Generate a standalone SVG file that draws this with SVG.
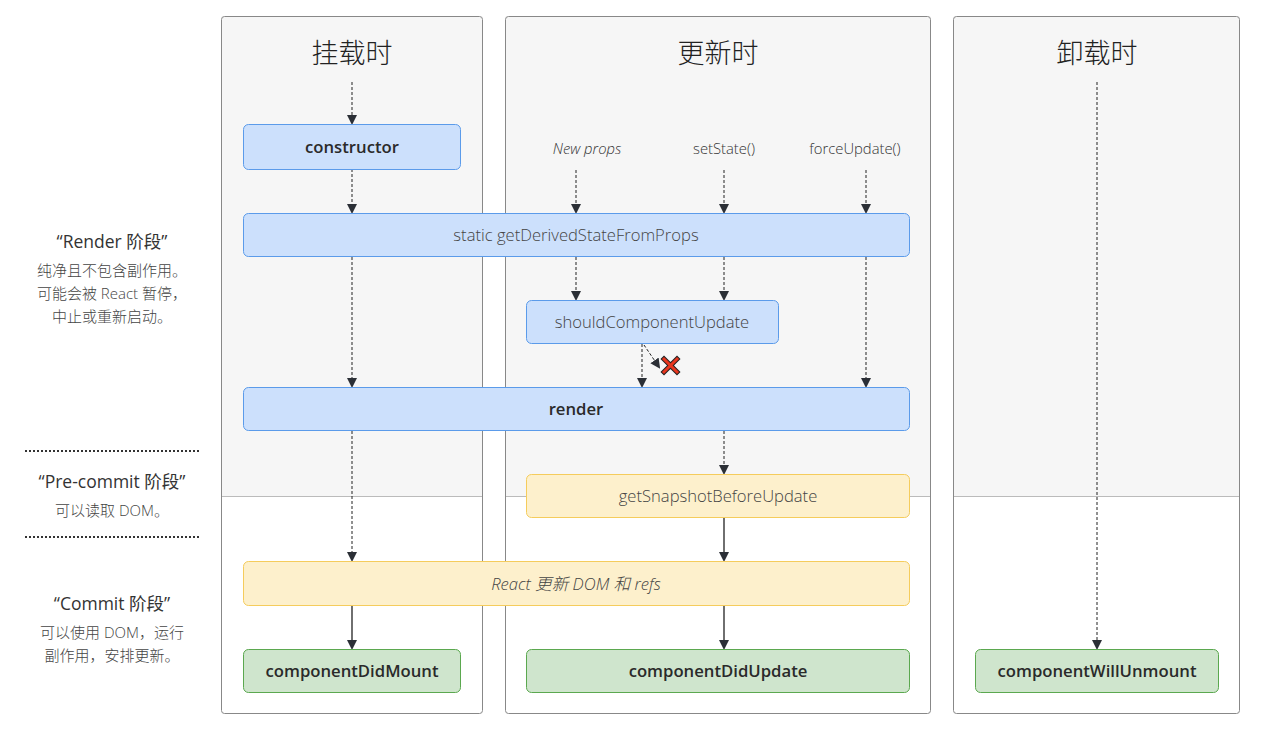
<svg xmlns="http://www.w3.org/2000/svg" width="1274" height="734" viewBox="0 0 1274 734">
<style>
.panel-bg{fill:#f6f6f6}
.panel{fill:none;stroke:#888;stroke-width:1}
.sep{stroke:#bbb;stroke-width:1}
.title{font-family:"Open Sans","Noto Sans CJK SC",sans-serif;font-size:27px;font-weight:300;fill:#222;text-anchor:middle}
.blue{fill:#cce0fc;stroke:#5b9bea;stroke-width:1}
.yellow{fill:#fdf0cc;stroke:#f5cc5c;stroke-width:1}
.green{fill:#cfe5cd;stroke:#5ba84f;stroke-width:1}
.nb{font-family:"Open Sans","Noto Sans CJK SC",sans-serif;font-size:16.7px;font-weight:600;fill:#2a2a2a;text-anchor:middle}
.nl{font-family:"Open Sans","Noto Sans CJK SC",sans-serif;font-size:16.6px;font-weight:300;fill:#444;text-anchor:middle}
.lab{font-family:"Open Sans","Noto Sans CJK SC",sans-serif;font-size:14.8px;font-weight:300;fill:#333;text-anchor:middle}
.ph{font-family:"Open Sans","Noto Sans CJK SC",sans-serif;font-size:17.5px;fill:#333;text-anchor:middle}
.pd{font-family:"Open Sans","Noto Sans CJK SC",sans-serif;font-size:15px;font-weight:300;fill:#444;text-anchor:middle}
.dash{stroke:#222;stroke-width:1;stroke-dasharray:3,2;fill:none}
.solid{stroke:#222;stroke-width:1.3;fill:none}
.dots{stroke:#333;stroke-width:2;stroke-dasharray:2,2}
</style>
<defs>
<marker id="ah" markerWidth="10" markerHeight="12" refX="8" refY="5" orient="auto" markerUnits="userSpaceOnUse">
<path d="M0,0 L10,5 L0,10 z" fill="#2b2f36"/>
</marker>
</defs>
<rect width="1274" height="734" fill="#fff"/>

<g id="panel-mount">
<rect class="panel-bg" x="221.5" y="16.5" width="261" height="480"/>
<line class="sep" x1="221.5" y1="496.5" x2="482.5" y2="496.5"/>
<rect class="panel" x="221.5" y="16.5" width="261" height="697" rx="3"/>
<text class="title" x="352" y="63">挂载时</text>
</g>
<g id="panel-update">
<rect class="panel-bg" x="505.5" y="16.5" width="425" height="480"/>
<line class="sep" x1="505.5" y1="496.5" x2="930.5" y2="496.5"/>
<rect class="panel" x="505.5" y="16.5" width="425" height="697" rx="3"/>
<text class="title" x="718" y="63">更新时</text>
</g>
<g id="panel-unmount">
<rect class="panel-bg" x="953.5" y="16.5" width="286" height="480"/>
<line class="sep" x1="953.5" y1="496.5" x2="1239.5" y2="496.5"/>
<rect class="panel" x="953.5" y="16.5" width="286" height="697" rx="3"/>
<text class="title" x="1097" y="63">卸载时</text>
</g>

<g id="phases">
<text class="ph" x="112" y="248">“Render 阶段”</text>
<text class="pd" x="112" y="276">纯净且不包含副作用。</text>
<text class="pd" x="112" y="299">可能会被 React 暂停，</text>
<text class="pd" x="112" y="322">中止或重新启动。</text>
<line class="dots" x1="25" y1="451" x2="199" y2="451"/>
<text class="ph" x="112" y="488">“Pre-commit 阶段”</text>
<text class="pd" x="112" y="516">可以读取 DOM。</text>
<line class="dots" x1="25" y1="537" x2="199" y2="537"/>
<text class="ph" x="112" y="610">“Commit 阶段”</text>
<text class="pd" x="112" y="638">可以使用 DOM，运行</text>
<text class="pd" x="112" y="661">副作用，安排更新。</text>
</g>

<g id="triggers">
<text class="lab" x="587" y="154" font-style="italic">New props</text>
<text class="lab" x="724" y="154">setState()</text>
<text class="lab" x="855" y="154">forceUpdate()</text>
</g>

<g id="connectors">
<line class="dash" x1="352" y1="82" x2="352" y2="123" marker-end="url(#ah)"/>
<line class="dash" x1="352" y1="169" x2="352" y2="212" marker-end="url(#ah)"/>
<line class="dash" x1="352" y1="257" x2="352" y2="386" marker-end="url(#ah)"/>
<line class="dash" x1="352" y1="431" x2="352" y2="560" marker-end="url(#ah)"/>
<line class="solid" x1="352" y1="605" x2="352" y2="648" marker-end="url(#ah)"/>
<line class="dash" x1="576" y1="170" x2="576" y2="212" marker-end="url(#ah)"/>
<line class="dash" x1="724" y1="170" x2="724" y2="212" marker-end="url(#ah)"/>
<line class="dash" x1="866" y1="170" x2="866" y2="212" marker-end="url(#ah)"/>
<line class="dash" x1="576" y1="257" x2="576" y2="299" marker-end="url(#ah)"/>
<line class="dash" x1="724" y1="257" x2="724" y2="299" marker-end="url(#ah)"/>
<line class="dash" x1="866" y1="257" x2="866" y2="386" marker-end="url(#ah)"/>
<line class="dash" x1="642" y1="344" x2="642" y2="386" marker-end="url(#ah)"/>
<line class="dash" x1="644" y1="345" x2="659" y2="367" marker-end="url(#ah)"/>
<line class="dash" x1="724" y1="431" x2="724" y2="473" marker-end="url(#ah)"/>
<line class="solid" x1="724" y1="518" x2="724" y2="560" marker-end="url(#ah)"/>
<line class="solid" x1="724" y1="606" x2="724" y2="648" marker-end="url(#ah)"/>
<line class="dash" x1="1097" y1="82" x2="1097" y2="648" marker-end="url(#ah)"/>
</g>

<g id="cancel">
<path d="M664,359 L677,372 M677,359 L664,372" stroke="#222" stroke-width="5" stroke-linecap="square"/>
<path d="M664,359 L677,372 M677,359 L664,372" stroke="#e8361e" stroke-width="3" stroke-linecap="square"/>
</g>

<g id="node-constructor">
<rect class="blue" x="243.5" y="124.5" width="217" height="45" rx="5"/>
<text class="nb" x="352" y="153">constructor</text>
</g>
<g id="node-gdsfp">
<rect class="blue" x="243.5" y="213.5" width="666" height="43" rx="5"/>
<text class="nl" x="576" y="241">static getDerivedStateFromProps</text>
</g>
<g id="node-scu">
<rect class="blue" x="526.5" y="300.5" width="252" height="43" rx="5"/>
<text class="nl" x="652" y="328">shouldComponentUpdate</text>
</g>
<g id="node-render">
<rect class="blue" x="243.5" y="387.5" width="666" height="43" rx="5"/>
<text class="nb" x="576" y="415">render</text>
</g>
<g id="node-gsbu">
<rect class="yellow" x="526.5" y="474.5" width="383" height="43" rx="5"/>
<text class="nl" x="718" y="502">getSnapshotBeforeUpdate</text>
</g>
<g id="node-react-update">
<rect class="yellow" x="243.5" y="561.5" width="666" height="44" rx="5"/>
<text class="nl" x="576" y="590" font-style="italic">React 更新 DOM 和 refs</text>
</g>
<g id="node-cdm">
<rect class="green" x="243.5" y="649.5" width="217" height="43" rx="5"/>
<text class="nb" x="352" y="677">componentDidMount</text>
</g>
<g id="node-cdu">
<rect class="green" x="526.5" y="649.5" width="383" height="43" rx="5"/>
<text class="nb" x="718" y="677">componentDidUpdate</text>
</g>
<g id="node-cwu">
<rect class="green" x="975.5" y="649.5" width="243" height="43" rx="5"/>
<text class="nb" x="1097" y="677">componentWillUnmount</text>
</g>
</svg>
